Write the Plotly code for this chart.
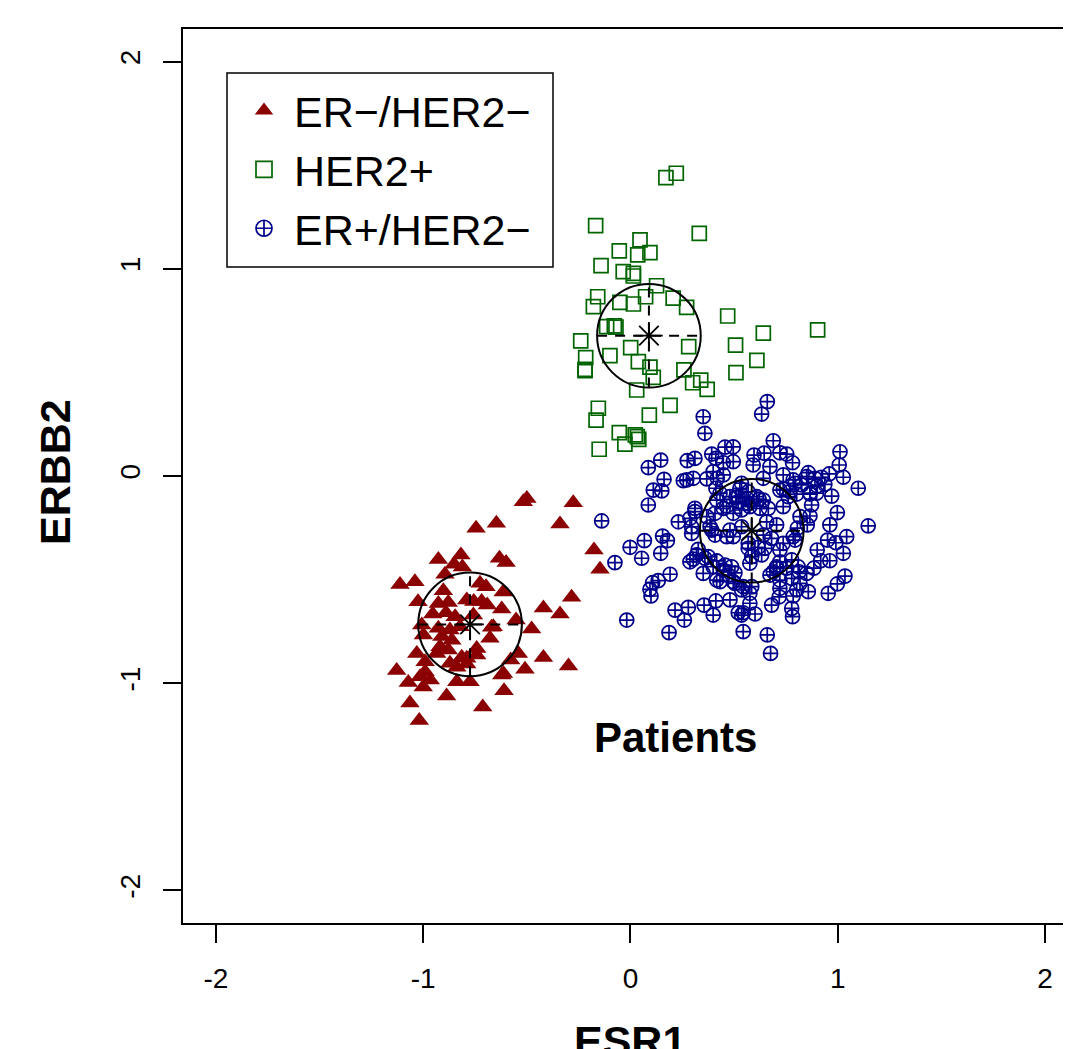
import plotly.graph_objects as go

# ---------------- data ----------------
group_names = ["ER\u2212/HER2\u2212", "HER2+", "ER+/HER2\u2212"]
group_colors = ["#8B0000", "#006400", "#00008B"]

red_points = [
    (-0.500, -0.108), (-0.517, -0.124), (-0.276, -0.129), (-0.647, -0.228), (-0.745, -0.252),
    (-0.340, -0.232), (-0.176, -0.357), (-0.147, -0.450), (-0.927, -0.403), (-0.818, -0.381),
    (-0.632, -0.397), (-0.600, -0.418), (-0.851, -0.426), (-0.811, -0.439), (-0.895, -0.474),
    (-1.112, -0.524), (-1.040, -0.510), (-0.284, -0.585), (-0.420, -0.637), (-0.340, -0.666),
    (-0.477, -0.738), (-0.420, -0.876), (-0.299, -0.917), (-0.509, -0.933), (-0.541, -0.856),
    (-0.578, -0.888), (-0.621, -0.960), (-0.610, -1.036), (-1.128, -0.939), (-1.072, -0.997),
    (-1.064, -1.095), (-0.887, -1.062), (-0.713, -1.115), (-1.019, -1.180), (-0.903, -0.554),
    (-0.726, -0.518), (-0.697, -0.534), (-0.614, -0.560), (-1.025, -0.607), (-0.927, -0.615),
    (-0.879, -0.611), (-0.790, -0.598), (-0.756, -0.606), (-0.718, -0.606), (-0.691, -0.622),
    (-0.621, -0.642), (-0.954, -0.666), (-0.890, -0.660), (-0.846, -0.679), (-0.758, -0.671),
    (-1.007, -0.719), (-0.927, -0.735), (-0.871, -0.743), (-0.822, -0.727), (-0.670, -0.730),
    (-0.999, -0.767), (-0.910, -0.775), (-0.862, -0.792), (-0.678, -0.783), (-0.919, -0.824),
    (-0.879, -0.840), (-0.742, -0.832), (-1.031, -0.856), (-0.935, -0.856), (-0.814, -0.875),
    (-0.790, -0.880), (-0.742, -0.864), (-0.991, -0.896), (-0.871, -0.904), (-0.838, -0.923),
    (-0.790, -0.907), (-0.991, -0.945), (-0.966, -0.985), (-1.015, -0.969), (-0.838, -0.993),
    (-0.774, -0.993), (-1.000, -1.018), (-0.552, -0.695), (-0.662, -0.727), (-0.613, -0.953),
]

green_points = [
    (0.171, 1.440), (0.221, 1.461), (-0.168, 1.208), (0.332, 1.171), (0.046, 1.139),
    (-0.054, 1.086), (0.035, 1.067), (0.094, 1.078), (-0.142, 1.015), (-0.035, 0.986),
    (0.014, 0.978), (0.014, 0.965), (0.126, 0.918), (-0.158, 0.865), (-0.179, 0.817),
    (0.073, 0.865), (-0.051, 0.838), (0.014, 0.830), (0.206, 0.858), (0.271, 0.814),
    (0.469, 0.772), (-0.115, 0.721), (-0.078, 0.725), (-0.070, 0.718), (0.641, 0.689),
    (0.903, 0.705), (-0.240, 0.652), (0.507, 0.632), (0.281, 0.624), (0.001, 0.619),
    (-0.099, 0.581), (-0.216, 0.571), (0.610, 0.558), (0.038, 0.552), (-0.219, 0.515),
    (-0.219, 0.508), (0.094, 0.525), (0.110, 0.476), (0.258, 0.512), (0.509, 0.499),
    (0.300, 0.450), (0.339, 0.463), (0.370, 0.418), (0.030, 0.415), (0.191, 0.341),
    (-0.155, 0.327), (-0.166, 0.270), (0.091, 0.294), (-0.054, 0.209), (0.023, 0.198),
    (0.040, 0.177), (-0.027, 0.154), (-0.151, 0.129), (0.033, 0.190),
]

blue_points = [
    (0.351, 0.286), (0.359, 0.206), (0.146, 0.077), (0.086, 0.040), (0.274, 0.074),
    (0.311, 0.085), (0.392, 0.106), (0.412, 0.085), (0.456, 0.139), (0.448, 0.064),
    (0.162, -0.016), (0.255, -0.023), (0.368, -0.014), (0.419, -0.011), (0.110, -0.068),
    (0.151, -0.072), (0.412, -0.059), (0.086, -0.140), (0.416, -0.116), (0.464, -0.145),
    (0.311, -0.156), (0.509, -0.103), (-0.139, -0.217), (0.231, -0.221), (0.287, -0.204),
    (0.295, -0.245), (0.295, -0.277), (0.384, -0.245), (0.408, -0.285), (0.480, -0.261),
    (0.496, -0.293), (0.155, -0.290), (0.178, -0.312), (0.067, -0.312), (-0.002, -0.344),
    (0.146, -0.373), (0.054, -0.397), (-0.075, -0.418), (0.303, -0.401), (0.327, -0.354),
    (0.375, -0.389), (0.416, -0.410), (0.456, -0.430), (0.504, -0.467), (0.191, -0.474),
    (0.134, -0.505), (0.107, -0.515), (0.094, -0.547), (0.099, -0.579), (0.432, -0.510),
    (0.480, -0.598), (0.412, -0.603), (0.355, -0.623), (0.279, -0.634), (0.215, -0.647),
    (0.260, -0.695), (0.399, -0.671), (-0.018, -0.695), (0.186, -0.756), (0.520, -0.660),
    (0.660, 0.359), (0.633, 0.299), (0.689, 0.170), (0.596, 0.101), (0.645, 0.110),
    (0.721, 0.112), (0.754, 0.106), (0.782, 0.064), (1.011, 0.117), (1.007, 0.053),
    (1.027, -0.006), (1.099, -0.059), (0.858, 0.016), (0.890, -0.011), (0.922, -0.006),
    (0.959, 0.010), (0.785, -0.019), (0.826, -0.043), (0.737, -0.064), (0.769, -0.076),
    (0.901, -0.048), (0.938, -0.040), (0.971, -0.097), (0.898, -0.083), (0.866, -0.087),
    (0.802, -0.087), (0.528, -0.059), (0.520, -0.100), (0.621, -0.112), (0.665, -0.156),
    (0.568, -0.132), (0.998, -0.177), (0.962, -0.236), (0.866, -0.193), (0.853, -0.236),
    (1.147, -0.241), (1.043, -0.293), (0.951, -0.309), (0.991, -0.322), (1.027, -0.373),
    (0.901, -0.357), (0.805, -0.252), (0.794, -0.309), (0.737, -0.325), (0.962, -0.409),
    (0.918, -0.409), (0.885, -0.445), (1.035, -0.483), (0.998, -0.521), (0.954, -0.566),
    (0.814, -0.462), (0.778, -0.405), (0.721, -0.414), (0.705, -0.445), (0.689, -0.462),
    (0.818, -0.518), (0.858, -0.558), (0.785, -0.579), (0.721, -0.542), (0.718, -0.583),
    (0.681, -0.623), (0.778, -0.639), (0.782, -0.679), (0.576, -0.614), (0.544, -0.660),
    (0.601, -0.666), (0.536, -0.671), (0.544, -0.751), (0.660, -0.767), (0.676, -0.856),
    (0.496, 0.141), (0.496, 0.069), (0.585, -0.534), (0.488, -0.438), (0.544, -0.534),
    (0.496, -0.510),
    (0.303, -0.011), (0.432, -0.083), (0.480, -0.100), (0.520, -0.124), (0.561, -0.108),
    (0.609, -0.100), (0.641, -0.116), (0.625, -0.156), (0.576, -0.148), (0.536, -0.164),
    (0.496, -0.180), (0.448, -0.156), (0.408, -0.180), (0.368, -0.196), (0.311, -0.172),
    (0.392, -0.261), (0.464, -0.293), (0.536, -0.245), (0.657, -0.221), (0.705, -0.236),
    (0.641, -0.285), (0.681, -0.301), (0.568, -0.325), (0.568, -0.349), (0.616, -0.344),
    (0.649, -0.349), (0.585, -0.389), (0.633, -0.381), (0.721, -0.357), (0.785, -0.293),
    (0.818, -0.196), (0.737, -0.148), (0.761, -0.100), (0.721, -0.068), (0.319, -0.381),
    (0.359, -0.397), (0.399, -0.438), (0.448, -0.454), (0.472, -0.478), (0.287, -0.414),
    (0.576, -0.421), (0.705, -0.438), (0.754, -0.445), (0.809, -0.438), (0.850, -0.470),
    (0.673, -0.478), (0.721, -0.502), (0.778, -0.494), (0.802, -0.550), (0.504, -0.518),
    (0.536, -0.550), (0.576, -0.566), (0.416, -0.502), (0.351, -0.470), (0.673, 0.045),
    (0.737, 0.005), (0.794, -0.035), (0.850, -0.003), (0.866, -0.083), (0.874, -0.140),
    (0.448, 0.005), (0.399, 0.021), (0.271, -0.019), (0.641, -0.011), (0.592, 0.053),
    (0.536, -0.035), (0.568, -0.076),
]

# cluster centres and circle radius
center_x = [-0.774, 0.089, 0.585]
center_y = [-0.716, 0.677, -0.264]
circle_radius = 0.25

tick_values = [-2, -1, 0, 1, 2]
tick_labels = ["-2", "-1", "0", "1", "2"]
x_title = "ESR1"
y_title = "ERBB2"
panel_label = "Patients"
panel_label_x = 0.217
panel_label_y = -1.262

# ---------------- figure ----------------
FONT = "Liberation Sans, Arial, Helvetica, sans-serif"
# page body has an 8px margin: figure pixel = screen pixel - 8
OFF = 8
W, H = 1071 - OFF, 1049 - OFF
ML, MR, MT = 183 - OFF, 0, 29 - OFF
MB = H - (923 - OFF)
PW, PH = W - ML - MR, H - MT - MB


def px_to_paper_x(px):  # px given in screen pixels
    return (px - OFF - ML) / PW


def px_to_paper_y(py):
    return (H - MB - (py - OFF)) / PH


fig = go.Figure()

styles = [
    dict(symbol="triangle-up", size=17, lw=0),
    dict(symbol="square-open", size=14, lw=1.7),
    dict(symbol="circle-cross-open", size=14, lw=1.7),
]
for name, pts, col, st in zip(group_names, [red_points, green_points, blue_points],
                              group_colors, styles):
    fig.add_trace(go.Scatter(
        x=[p[0] for p in pts], y=[p[1] for p in pts], mode="markers", name=name,
        legendgroup=name, showlegend=False,
        marker=dict(symbol=st["symbol"], size=st["size"], color=col,
                    line=dict(color=col, width=st["lw"])),
    ))
# legend entries (bigger symbols, as in the reference legend)
for name, col, st in zip(group_names, group_colors, styles):
    fig.add_trace(go.Scatter(
        x=[None], y=[None], mode="markers", name=name, legendgroup=name,
        marker=dict(symbol=st["symbol"], size=16, color=col,
                    line=dict(color=col, width=st["lw"])),
    ))

# centroid stars
fig.add_trace(go.Scatter(
    x=center_x, y=center_y, mode="markers", showlegend=False,
    marker=dict(symbol="asterisk-open", size=23, color="black",
                line=dict(color="black", width=1.8)),
))

shapes = []
for cx, cy in zip(center_x, center_y):
    shapes.append(dict(type="circle", xref="x", yref="y",
                       x0=cx - circle_radius, x1=cx + circle_radius,
                       y0=cy - circle_radius, y1=cy + circle_radius,
                       line=dict(color="black", width=2)))
    shapes.append(dict(type="line", xref="x", yref="y",
                       x0=cx - circle_radius, x1=cx + circle_radius, y0=cy, y1=cy,
                       line=dict(color="black", width=2, dash="10px,8px")))
    shapes.append(dict(type="line", xref="x", yref="y",
                       x0=cx, x1=cx, y0=cy - circle_radius, y1=cy + circle_radius,
                       line=dict(color="black", width=2, dash="10px,8px")))

# legend box
shapes.append(dict(type="rect", xref="paper", yref="paper",
                   x0=px_to_paper_x(227), x1=px_to_paper_x(553),
                   y0=px_to_paper_y(267), y1=px_to_paper_y(73),
                   line=dict(color="black", width=1.5), fillcolor="rgba(0,0,0,0)"))

annotations = [
    dict(text=f"<b>{panel_label}</b>", x=panel_label_x, y=panel_label_y, xref="x", yref="y",
         showarrow=False, font=dict(size=42, family=FONT, color="black"),
         xanchor="center", yanchor="middle"),
    dict(text=f"<b>{x_title}</b>", x=px_to_paper_x(630), y=px_to_paper_y(1015),
         xref="paper", yref="paper", showarrow=False,
         font=dict(size=43, family=FONT, color="black"), xanchor="center", yanchor="top"),
    dict(text=f"<b>{y_title}</b>", x=px_to_paper_x(55), y=px_to_paper_y(472),
         xref="paper", yref="paper", showarrow=False, textangle=-90,
         font=dict(size=43, family=FONT, color="black"), xanchor="center", yanchor="middle"),
]

fig.update_layout(
    width=W, height=H,
    margin=dict(l=ML, r=MR, t=MT, b=MB, pad=0),
    plot_bgcolor="white", paper_bgcolor="white",
    font=dict(family=FONT, color="black", size=28),
    shapes=shapes, annotations=annotations,
    showlegend=True,
    legend=dict(x=px_to_paper_x(234), y=px_to_paper_y(76), xanchor="left", yanchor="top",
                font=dict(size=43, family=FONT, color="black"),
                bgcolor="rgba(0,0,0,0)", borderwidth=0, itemwidth=50,
                tracegroupgap=0),
)
fig.update_xaxes(range=[-2.159, 2.1255], tickvals=tick_values, ticktext=tick_labels,
                 ticks="outside", ticklen=18, tickwidth=1.5, tickcolor="black",
                 showline=True, linewidth=1.5, linecolor="black", mirror=True,
                 showgrid=False, zeroline=False, tickfont=dict(size=28),
                 ticklabelstandoff=12)
fig.update_yaxes(range=[-2.157, 2.157], tickvals=tick_values, ticktext=tick_labels,
                 ticks="outside", ticklen=18, tickwidth=1.5, tickcolor="black",
                 showline=True, linewidth=1.5, linecolor="black", mirror=False,
                 showgrid=False, zeroline=False, tickfont=dict(size=28), tickangle=-90,
                 ticklabelstandoff=12)

fig.write_html("out.html")
